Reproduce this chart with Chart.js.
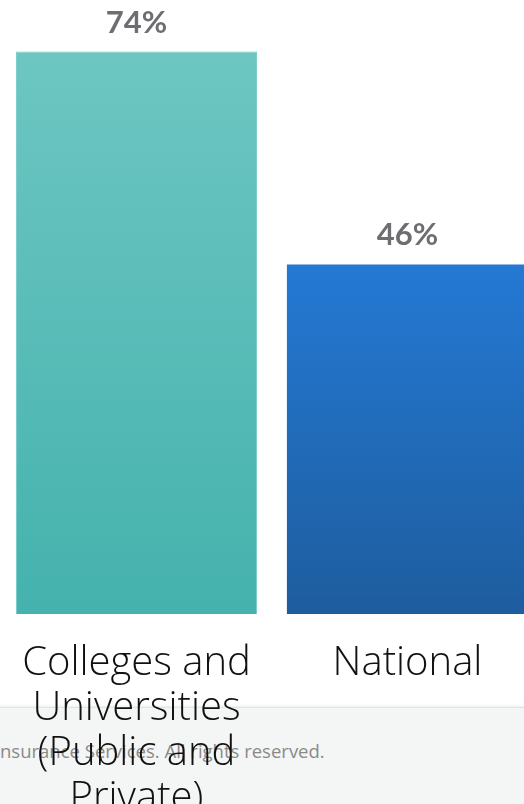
<!DOCTYPE html>
<html>
<head>
<meta charset="utf-8">
<script src="https://cdn.jsdelivr.net/npm/chart.js@4.4.1/dist/chart.umd.min.js"></script>
<style>
  html, body { margin: 0; padding: 0; overflow: hidden; background: #ffffff; }
  body { width: 524px; height: 804px; position: relative; }
  #footer {
    position: absolute; left: 0; top: 707px; width: 524px; height: 97px;
    background: #f4f5f5; border-top: 1px solid #e2e3e3;
    box-shadow: 0 -1px 3px rgba(0,0,0,0.08);
  }
  #footer span {
    position: absolute; left: 0; top: 30px;
    font-family: "Open Sans", sans-serif; font-size: 18.5px; color: #8a8a8a;
    white-space: nowrap;
  }
  #wrap { position: absolute; left: 0; top: 0; width: 545px; height: 848px; }
</style>
</head>
<body>
<div id="footer"><span>nsurance Services. All rights reserved.</span></div>
<div id="wrap"><canvas id="chart"></canvas></div>
<script>
const categories = [
  ["Colleges and", "Universities", "(Public and", "Private)"],
  "National"
];
const values = [74, 46];
const valueLabels = ["74%", "46%"];
const gradientStops = [
  ["#6dc6c2", "#45b2ad"],
  ["#2479d4", "#1e5d9e"]
];

// gradient per bar, from its top down to the zero line
function barFill(context) {
  const chart = context.chart;
  const area = chart.chartArea;
  if (!area) return gradientStops[context.dataIndex][0];
  const y = chart.scales.y;
  const top = y.getPixelForValue(values[context.dataIndex]);
  const bottom = y.getPixelForValue(0);
  const g = chart.ctx.createLinearGradient(0, top, 0, bottom);
  g.addColorStop(0, gradientStops[context.dataIndex][0]);
  g.addColorStop(1, gradientStops[context.dataIndex][1]);
  return g;
}

const topLabels = {
  id: "topLabels",
  afterDatasetsDraw(chart) {
    const { ctx } = chart;
    const meta = chart.getDatasetMeta(0);
    ctx.save();
    ctx.font = "bold 31px Lato, sans-serif";
    ctx.fillStyle = "#6d6e71";
    ctx.textAlign = "center";
    ctx.textBaseline = "alphabetic";
    meta.data.forEach((bar, i) => {
      ctx.fillText(valueLabels[i], bar.x, bar.y - 19);
    });
    ctx.restore();
  }
};

new Chart(document.getElementById("chart"), {
  type: "bar",
  data: {
    labels: categories,
    datasets: [{
      data: values,
      backgroundColor: barFill,
      borderColor: ["#72cbc7", "rgba(0,0,0,0)"],
      borderWidth: [1, 0],
      categoryPercentage: 1,
      barPercentage: 0.89
    }]
  },
  options: {
    responsive: true,
    maintainAspectRatio: false,
    animation: false,
    layout: { padding: { top: 6, left: 1, right: 2, bottom: 0 } },
    plugins: {
      legend: { display: false },
      tooltip: { enabled: false }
    },
    scales: {
      x: {
        grid: { display: false, drawTicks: false },
        border: { display: false },
        // let the wide labels hang out instead of squeezing the bars
        afterFit(scale) {
          scale.paddingLeft = 0;
          scale.paddingRight = 0;
        },
        ticks: {
          color: "#111111",
          padding: 27,
          maxRotation: 0,
          autoSkip: false,
          font: { family: "Open Sans", size: 40, weight: 300, lineHeight: 1.125 }
        }
      },
      y: {
        display: false,
        min: 0,
        max: 80
      }
    }
  },
  plugins: [topLabels]
});
</script>
</body>
</html>
